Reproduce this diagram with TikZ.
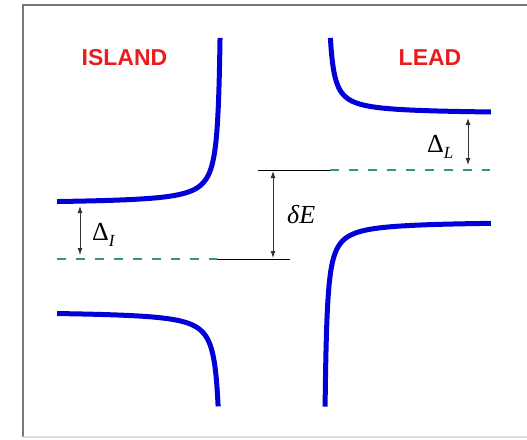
\documentclass[tikz,border=0pt]{standalone}
\usepackage{fontspec}
\setmainfont{Liberation Serif}
\setsansfont{Liberation Sans}
\usetikzlibrary{arrows.meta}
\definecolor{figRojo}{RGB}{232,30,30}
\definecolor{figAzul}{RGB}{0,0,215}
\definecolor{figVerde}{RGB}{50,150,120}
\definecolor{figMarco}{RGB}{120,120,120}
\tikzset{
  rotulo/.style={
    font=\sffamily\bfseries\fontsize{23}{23}\selectfont, text=figRojo,
    inner sep=0pt, anchor=base
  },
  simbolo/.style={font=\fontsize{26}{26}\selectfont, inner sep=0pt, anchor=base west},
  banda/.style={line width=5pt, draw=figAzul},
  nivel/.style={line width=2.6pt, draw=figVerde, dash pattern=on 9pt off 10pt},
  linea/.style={line width=1pt, draw=black},
  cota/.style={{Latex[length=7pt,width=5pt]}-{Latex[length=7pt,width=5pt]}, line width=0.9pt, draw=black!80},
  marco/.style={line width=1.6pt, draw=figMarco}
}
\newcommand{\subi}[1]{\raisebox{-6pt}{\fontsize{17}{17}\selectfont\itshape #1}}

\begin{document}
\begin{tikzpicture}[x=1pt, y=-1pt]
  \useasboundingbox (0,0) rectangle (527,439);
  \draw[marco] (527,5) -- (23,5) -- (23,437);
  \draw[marco, draw=figMarco!25] (23,437) -- (527,437);

  \node[rotulo] (isla) at (124.5,65) {ISLAND};
  \node[rotulo] (lead) at (430,65) {LEAD};

  \draw[banda] plot[variable=\u, domain=0.904:5.109, samples=90] ({222.5-exp(\u)}, {204-410/exp(\u)});
  \draw[banda] plot[variable=\u, domain=1.482:5.109, samples=90] ({222.5-exp(\u)}, {311+420/exp(\u)});
  \draw[banda] plot[variable=\u, domain=1.482:5.106, samples=90] ({326+exp(\u)}, {114-335/exp(\u)});
  \draw[banda] plot[variable=\u, domain=0.742:5.124, samples=90] ({323+exp(\u)}, {221+390/exp(\u)});

  \coordinate (nivI0) at (57,259);
  \coordinate (nivI1) at (217,259);
  \coordinate (nivI2) at (290,259);
  \coordinate (nivL0) at (258,170);
  \coordinate (nivL1) at (330,170);
  \coordinate (nivL2) at (490,170);
  \draw[nivel] (nivI0) -- (nivI1);
  \draw[linea] (nivI1) -- (nivI2);
  \draw[linea] (nivL0) -- (nivL1);
  \draw[nivel] (nivL1) -- (nivL2);

  \coordinate (cIa) at (80,206);
  \coordinate (cIb) at (80,255);
  \coordinate (cLa) at (468,118);
  \coordinate (cLb) at (468,165);
  \coordinate (cEa) at (273,171);
  \coordinate (cEb) at (273,258);
  \draw[cota] (cIa) -- (cIb);
  \draw[cota] (cLa) -- (cLb);
  \draw[cota] (cEa) -- (cEb);

  \node[simbolo] (deltaI) at (92,240) {Δ\subi{I}};
  \node[simbolo] (deltaL) at (427,152) {Δ\subi{L}};
  \node[simbolo] (dE) at (287,223) {\itshape δE};
\end{tikzpicture}
\end{document}
